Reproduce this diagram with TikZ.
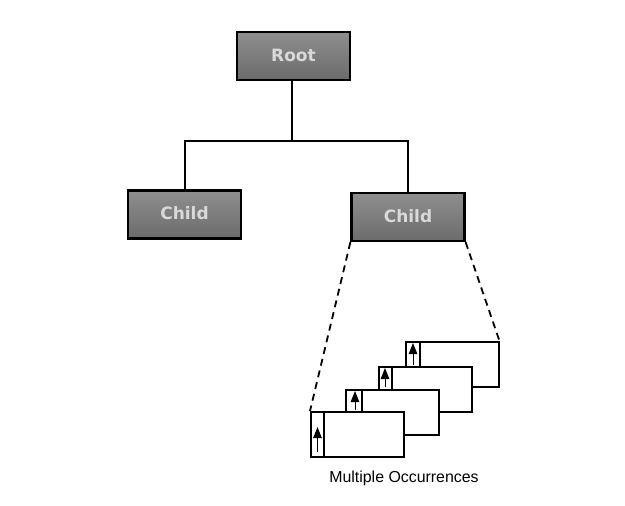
\documentclass[tikz,border=0pt]{standalone}
\usepackage{fontspec}
\setmainfont{Liberation Sans}
\newfontfamily\boxfont{DejaVu Sans}
\usetikzlibrary{arrows.meta}
\tikzset{
  graybox/.style={draw=black, line width=2.2pt, top color=black!44, bottom color=black!58,
    minimum width=113pt, minimum height=48pt, inner sep=0pt,
    text=white!85!black, font=\boxfont\bfseries\fontsize{17}{20}\selectfont},
  link/.style={line width=2pt},
  occ/.style={draw=black, line width=2pt, fill=white, minimum width=93pt, minimum height=45pt, inner sep=0pt},
  upar/.style={line width=0.9pt, -{Triangle[width=8.5pt,length=11pt]}},
  dashlink/.style={line width=1.8pt, dash pattern=on 7pt off 5pt}
}
\begin{document}
\begin{tikzpicture}[x=1pt,y=-1pt]
\useasboundingbox (0,0) rectangle (625,506);
\node[graybox] (root) at (293.5,56) {\raisebox{2pt}{Root}};
\node[graybox] (lc) at (184.5,214.5) {\raisebox{2pt}{Child}};
\node[graybox] (rc) at (408,217) {\raisebox{2pt}{Child}};
\coordinate (j) at (292,140.5);
\draw[link] (root.south -| j) -- (j);
\draw[link] (lc.north) |- (j) -| (rc.north);
% stacked occurrences, back to front
\node[occ] (b4) at (452,364.5) {};
\draw[line width=2pt] ([xshift=15pt]b4.north west) -- ([xshift=15pt]b4.south west);
\draw[upar] (413,365) -- (413,343);
\node[occ] (b3) at (425,389.5) {};
\draw[line width=2pt] ([xshift=14pt]b3.north west) -- ([xshift=14pt]b3.south west);
\draw[upar] (385,387) -- (385,368);
\node[occ] (b2) at (392,412.5) {};
\draw[line width=2pt] ([xshift=17pt]b2.north west) -- ([xshift=17pt]b2.south west);
\draw[upar] (355,410) -- (355,391);
\node[occ] (b1) at (357.5,434.5) {};
\draw[line width=2pt] ([xshift=14pt]b1.north west) -- ([xshift=14pt]b1.south west);
\draw[upar] (317.5,452) -- (317.5,427);
\draw[dashlink] (rc.south west) -- (b1.north west);
\draw[dashlink] (rc.south east) -- (b4.north east);
\node[font=\fontsize{15.9}{18}\selectfont] (cap) at (404,478) {Multiple Occurrences};
\end{tikzpicture}
\end{document}
